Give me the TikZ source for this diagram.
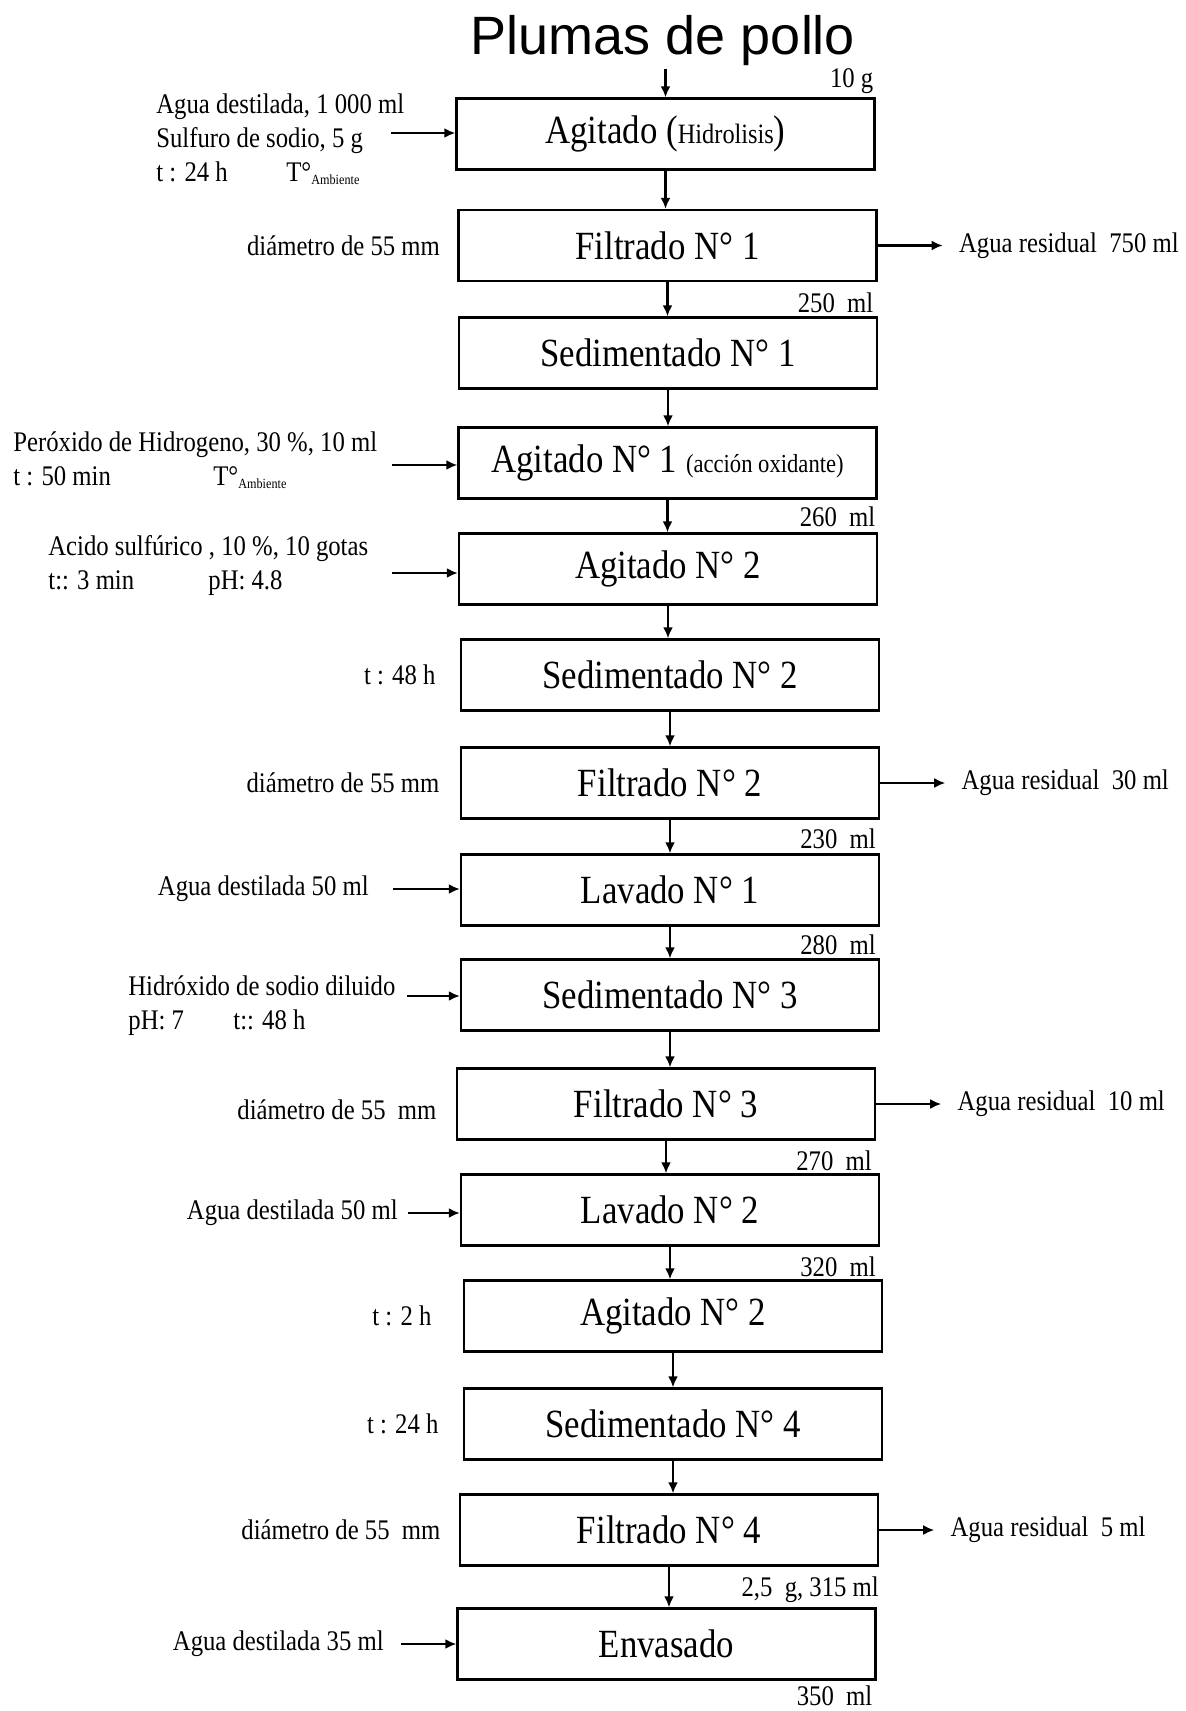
\documentclass[tikz,border=0pt]{standalone}
\usepackage{fontspec}
\setmainfont{Liberation Serif}[FakeStretch=0.87]
\newfontfamily\titlefont{Liberation Sans}
\usetikzlibrary{arrows.meta,positioning,calc}

\newcommand{\tamb}{T°\raisebox{-1.5pt}{\fontsize{7}{7}\selectfont Ambiente}}

\begin{document}
\begin{tikzpicture}[x=0.5pt, y=-0.5pt,
      stage/.style={draw, line width=1.2pt, minimum width=209pt, minimum height=35.5pt,
                    inner sep=2pt, font=\fontsize{20}{22}\selectfont},
      note/.style={inner sep=0pt, font=\fontsize{14.2}{17}\selectfont},
      flow/.style={-{Latex[length=5.5pt,width=5pt]}, line width=1.05pt}
    ]
      \useasboundingbox (0,0) rectangle (1186,1711);

      \node[anchor=base, inner sep=0pt, font=\titlefont\fontsize{27}{27}\selectfont]
        (title) at (663,55) {Plumas de pollo};

      \node[stage] (s1) at (665.5,134) {Agitado ({\fontsize{14}{14}\selectfont Hidrolisis})};
      \node[stage] (s2) at (667.5,245.5) {Filtrado N° 1};
      \node[stage] (s3) at (668,353) {Sedimentado N° 1};
      \node[stage] (s4) at (667.5,463) {Agitado N° 1 {\fontsize{13}{13}\selectfont (acción oxidante)}};
      \node[stage] (s5) at (668,569) {Agitado N° 2};
      \node[stage] (s6) at (670,675) {Sedimentado N° 2};
      \node[stage] (s7) at (670,783) {Filtrado N° 2};
      \node[stage] (s8) at (670,890) {Lavado N° 1};
      \node[stage] (s9) at (670,995) {Sedimentado N° 3};
      \node[stage] (s10) at (666,1104) {Filtrado N° 3};
      \node[stage] (s11) at (670,1210) {Lavado N° 2};
      \node[stage] (s12) at (673,1316) {Agitado N° 2};
      \node[stage] (s13) at (673,1424) {Sedimentado N° 4};
      \node[stage] (s14) at (669,1530) {Filtrado N° 4};
      \node[stage] (s15) at (666.5,1644) {Envasado};

      \draw[flow] ([yshift=-1pt]title.south -| s1.north) -- (s1.north);
      \foreach \a/\b in {s1/s2,s2/s3,s3/s4,s4/s5,s5/s6,s6/s7,s7/s8,s8/s9,
                         s9/s10,s10/s11,s11/s12,s12/s13,s13/s14,s14/s15}
        \draw[flow] (\a.south) -- (\a.south |- \b.north);

      \node[note, anchor=base east] at ([xshift=-1pt,yshift=5pt]s1.north east) {10 g};
      \node[note, anchor=base east] at ([xshift=-2pt,yshift=-15pt]s2.south east) {250~ ml};
      \node[note, anchor=base east] at ([xshift=-1pt,yshift=-13.5pt]s4.south east) {260~ ml};
      \node[note, anchor=base east] at ([xshift=-2pt,yshift=-14.5pt]s7.south east) {230~ ml};
      \node[note, anchor=base east] at ([xshift=-2pt,yshift=-14pt]s8.south east) {280~ ml};
      \node[note, anchor=base east] at ([xshift=-2pt,yshift=-15pt]s10.south east) {270~ ml};
      \node[note, anchor=base east] at ([xshift=-2pt,yshift=-15pt]s11.south east) {320~ ml};
      \node[note, anchor=base east] at ([xshift=0pt,yshift=-15pt]s14.south east) {2,5~ g, 315 ml};
      \node[note, anchor=base east] at ([xshift=-2pt,yshift=-12.5pt]s15.south east) {350~ ml};

      \node[note, anchor=east] at ([xshift=-8.5pt]s2.west) {diámetro de 55 mm};
      \node[note, anchor=east] at ([xshift=-12pt]s6.west) {t : 48 h};
      \node[note, anchor=east] at ([xshift=-10pt]s7.west) {diámetro de 55 mm};
      \node[note, anchor=east] at ([xshift=-9.5pt,yshift=-3pt]s10.west) {diámetro de 55~ mm};
      \node[note, anchor=east] at ([xshift=-15.5pt]s12.west) {t : 2 h};
      \node[note, anchor=east] at ([xshift=-12pt]s13.west) {t : 24 h};
      \node[note, anchor=east] at ([xshift=-9pt]s14.west) {diámetro de 55~ mm};

      \node[note, anchor=west, align=left] (in1) at (156,139)
        {Agua destilada, 1 000 ml\\Sulfuro de sodio, 5 g\\\makebox[65pt][l]{t : 24 h}\tamb};
      \coordinate (a1) at (391,133);
      \draw[flow] (a1) -- (a1 -| s1.west);

      \node[note, anchor=west, align=left] (in4) at (13,460)
        {Peróxido de Hidrogeno, 30 \%, 10 ml\\\makebox[100pt][l]{t : 50 min}\tamb};
      \coordinate (a4) at (392,465);
      \draw[flow] (a4) -- (a4 -| s4.west);

      \node[note, anchor=west, align=left] (in5) at (48,566)
        {Acido sulfúrico , 10 \%, 10 gotas\\\makebox[80pt][l]{t:: 3 min}pH: 4.8};
      \coordinate (a5) at (392,573);
      \draw[flow] (a5) -- (a5 -| s5.west);

      \node[note, anchor=east] (in8) at (369,889) {Agua destilada 50 ml};
      \draw[flow, shorten <=12pt] (in8) -- (in8 -| s8.west);

      \node[note, anchor=west, align=left] (in9) at (128,1006)
        {Hidróxido de sodio diluido\\\makebox[52.5pt][l]{pH: 7}t:: 48 h};
      \coordinate (a9) at (407,996);
      \draw[flow] (a9) -- (a9 -| s9.west);

      \node[note, anchor=east] (in11) at (398,1213) {Agua destilada 50 ml};
      \draw[flow, shorten <=5pt] (in11) -- (in11 -| s11.west);

      \node[note, anchor=east] (in15) at (384,1644) {Agua destilada 35 ml};
      \draw[flow, shorten <=8.5pt] (in15) -- (in15 -| s15.west);

      \node[note, anchor=west] (w2) at ([xshift=40.5pt]s2.east) {Agua residual~ 750 ml};
      \draw[flow, shorten >=8pt] (s2) -- (w2);
      \node[note, anchor=west] (w7) at ([xshift=40.5pt]s7.east) {Agua residual~ 30 ml};
      \draw[flow, shorten >=8pt] (s7) -- (w7);
      \node[note, anchor=west] (w10) at ([xshift=40.5pt]s10.east) {Agua residual~ 10 ml};
      \draw[flow, shorten >=8pt] (s10) -- (w10);
      \node[note, anchor=west] (w14) at ([xshift=35.5pt]s14.east) {Agua residual~ 5 ml};
      \draw[flow, shorten >=8pt] (s14) -- (w14);
    \end{tikzpicture}
\end{document}
